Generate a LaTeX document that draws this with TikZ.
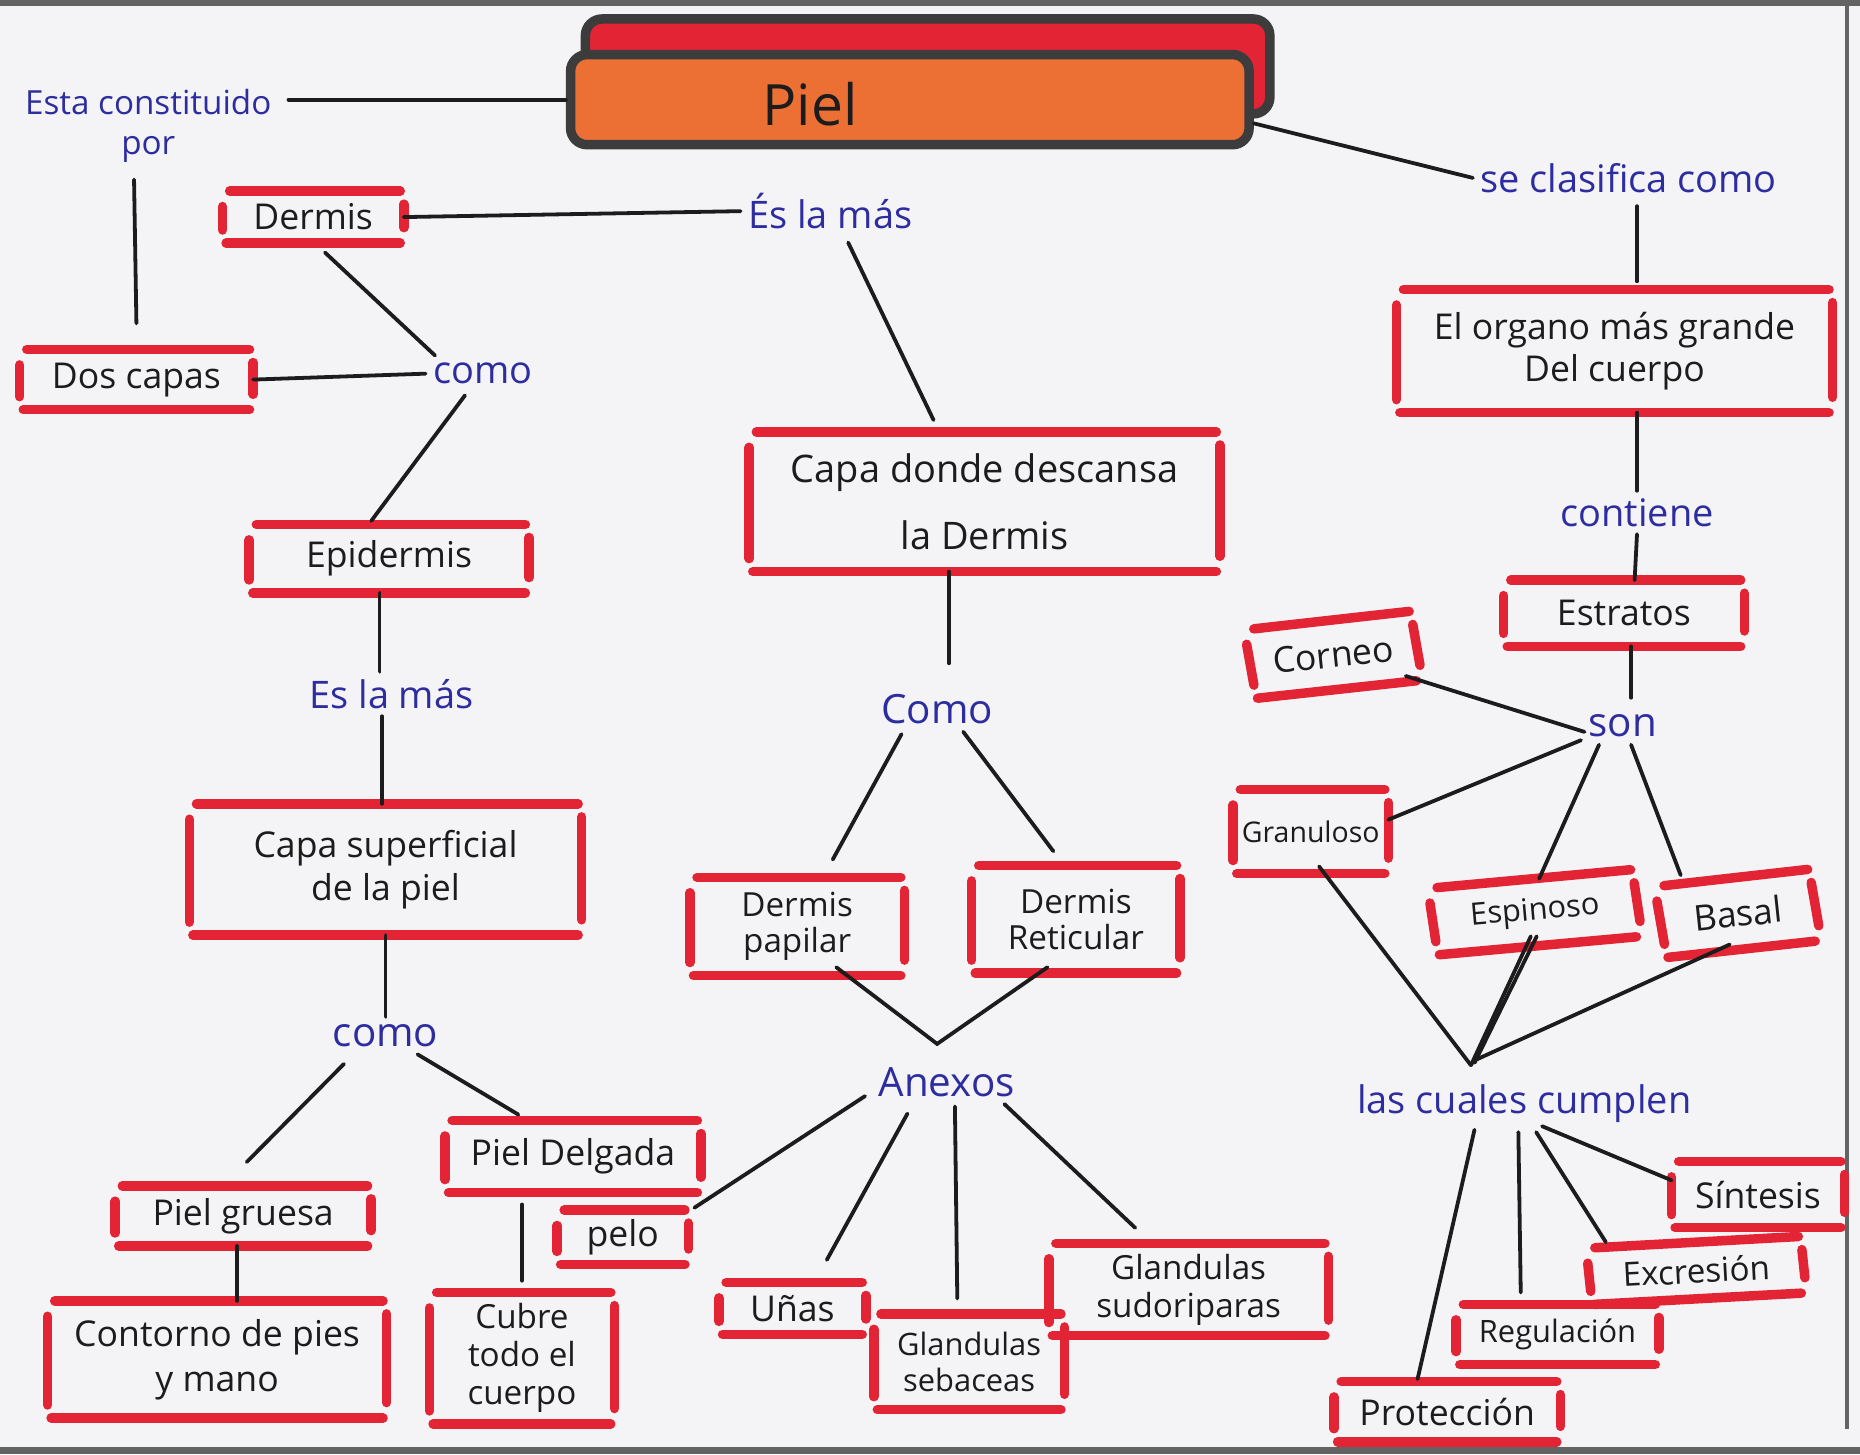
\documentclass[tikz,border=0pt]{standalone}
\usepackage{fontspec}
\setmainfont{Open Sans}
\usetikzlibrary{calc}
\definecolor{paper}{RGB}{244,244,246}
\definecolor{marker}{RGB}{226,36,52}
\definecolor{ink}{RGB}{45,45,160}
\definecolor{pen}{RGB}{28,28,28}
\definecolor{orangefill}{RGB}{236,112,52}
\definecolor{framegray}{RGB}{60,60,60}
\newcommand{\redbox}[7][]{%
  \node[rbox, minimum width=#5*0.5pt, minimum height=#6*0.5pt, #1] (#2) at (#3,#4) {#7};
  \draw[bar] ($(#2.north west)+(6,0)$) -- ($(#2.north east)+(-3,0)$);
  \draw[bar] ($(#2.south west)+(3,0)$) -- ($(#2.south east)+(-3,0)$);
  \draw[bar] ($(#2.north west)+(0,13)$) -- ($(#2.south west)+(0,-11)$);
  \draw[bar] ($(#2.north east)+(0,11)$) -- ($(#2.south east)+(0,-13)$);
}
\begin{document}
\begin{tikzpicture}[x=0.5pt,y=-0.5pt,
  rbox/.style={inner sep=0pt, align=center, font=\fontsize{15}{18}\selectfont, text=pen},
  bar/.style={marker, line width=4pt, line cap=round},
  lbl/.style={text=ink, inner sep=3pt, align=center, font=\fontsize{16}{18}\selectfont},
  con/.style={pen, line width=1.6pt, line cap=round},
  titlebox/.style={draw=framegray, line width=4pt, rounded corners=7pt, inner sep=0pt},
  edge/.style={framegray!80, line width=2pt}
]
\fill[paper] (0,0) rectangle (1568,1226);
\useasboundingbox (0,0) rectangle (1568,1226);
% scan edges
\draw[edge, line width=3pt] (0,2) -- (1568,2);
\draw[edge] (1557,0) -- (1557,1205);
\draw[edge, line width=3pt] (0,1223) -- (1568,1223);

% title
\node[titlebox, fill=marker, minimum width=288.5pt, minimum height=40pt] (pielback) at (782,56) {};
\node[titlebox, fill=orangefill, minimum width=286pt, minimum height=38pt,
  label={[text=pen, font=\fontsize{24}{26}\selectfont, xshift=-42pt, yshift=-2pt]center:Piel}] (pielfront) at (767,84) {};

% boxes
\redbox{dermis}{264}{183}{152}{43}{Dermis}
\redbox{doscapas}{115}{320}{196}{50}{Dos capas}
\redbox{epidermis}{328}{471}{235}{57}{Epidermis}
\redbox[font=\fontsize{15}{18}\selectfont]{capasup}{325}{733}{330}{110}{Capa superficial\\de la piel}
\redbox{pielgruesa}{205}{1025}{215}{50}{Piel gruesa}
\redbox[font=\fontsize{15}{19}\selectfont]{contorno}{183}{1146}{285}{98}{Contorno de pies\\y mano}
\redbox{pieldelg}{483}{975}{215}{60}{Piel Delgada}
\redbox[font=\fontsize{14}{16}\selectfont]{cubre}{440}{1145}{155}{110}{Cubre\\todo el\\cuerpo}
\redbox{pelo}{525}{1043}{110}{45}{pelo}
\redbox[font=\fontsize{16}{28}\selectfont]{capadonde}{830}{423}{396}{117}{Capa donde descansa\\la Dermis}
\redbox[font=\fontsize{14}{15}\selectfont]{dpapilar}{672}{781}{180}{82}{Dermis\\papilar}
\redbox[font=\fontsize{14}{15}\selectfont]{dretic}{907}{775}{175}{90}{Dermis\\Reticular}
\redbox{unas}{668}{1103}{123}{43}{Uñas}
\redbox[font=\fontsize{13}{15}\selectfont]{gseb}{817}{1148}{160}{80}{Glandulas\\sebaceas}
\redbox[font=\fontsize{14}{16}\selectfont]{gsud}{1002}{1087}{235}{77}{Glandulas\\sudoriparas}
\redbox[font=\fontsize{15}{18}\selectfont]{organo}{1361}{296}{367}{103}{El organo más grande\\Del cuerpo}
\redbox{estratos}{1369}{517}{202}{55}{Estratos}
\redbox[rotate=6]{corneo}{1124}{552}{140}{58}{Corneo}
\redbox[font=\fontsize{12}{14}\selectfont]{granuloso}{1105}{701}{130}{70}{Granuloso}
\redbox[rotate=5, font=\fontsize{13}{15}\selectfont]{espinoso}{1294}{769}{172}{56}{Espinoso}
\redbox[rotate=6]{basal}{1465}{770}{130}{60}{Basal}
\redbox{sintesis}{1482}{1007}{145}{55}{Síntesis}
\redbox[rotate=3, font=\fontsize{14}{16}\selectfont]{excresion}{1430}{1071}{180}{47}{Excresión}
\redbox[font=\fontsize{13}{15}\selectfont]{regulacion}{1313}{1125}{170}{50}{Regulación}
\redbox{proteccion}{1220}{1190}{190}{50}{Protección}

% blue linking words
\node[lbl, font=\fontsize{14}{17}\selectfont] (esta) at (125,106) {Esta constituido\\por};
\node[lbl] (esla1) at (700,178) {És la más};
\node[lbl] (como1) at (407,315) {como};
\node[lbl] (esla2) at (330,585) {Es la más};
\node[lbl, font=\fontsize{17}{19}\selectfont] (como2) at (325,873) {como};
\node[lbl, font=\fontsize{17}{19}\selectfont] (como3) at (790,598) {Como};
\node[lbl, font=\fontsize{17}{19}\selectfont] (anexos) at (798,912) {Anexos};
\node[lbl] (seclas) at (1373,150) {se clasifica como};
\node[lbl] (contiene) at (1380,432) {contiene};
\node[lbl, font=\fontsize{17}{19}\selectfont] (son) at (1368,612) {son};
\node[lbl] (cuales) at (1285,930) {las cuales cumplen};

\coordinate (jA) at (790,880);
\coordinate (jL) at (1240,898);

% connectors
\draw[con] ($(esta.east |- pielfront.west)+(8,0)$) -- (pielfront.west);
\draw[con] ($(esta.south)+(-12,8)$) -- ($(doscapas.north)+(0,-22)$);
\draw[con] (doscapas.east) -- (como1.west);
\draw[con] (dermis.east) -- (esla1.west);
\draw[con] ($(dermis.south)+(10,8)$) -- ($(como1.north west)+(8,0)$);
\draw[con] ($(como1.south)+(-15,3)$) -- ($(epidermis.north)+(-15,-3)$);
\draw[con] ($(epidermis.south)+(-8,0)$) -- ($(esla2.north)+(-10,0)$);
\draw[con] ($(esla2.south)+(-8,0)$) -- ($(capasup.north)+(-3,0)$);
\draw[con] (capasup.south) -- (como2.north);
\draw[con] ($(como2.south)+(-35,8)$) -- ($(pielgruesa.north)+(3,-20)$);
\draw[con] ($(como2.south)+(27,0)$) -- ($(pieldelg.north)+(-46,-5)$);
\draw[con] ($(pielgruesa.south)+(-5,0)$) -- ($(contorno.north)+(17,0)$);
\draw[con] ($(pieldelg.south)+(-43,10)$) -- ($(cubre.north)+(0,-10)$);
\draw[con] ($(esla1.south)+(15,5)$) -- ($(capadonde.north)+(-43,-10)$);
\draw[con] ($(capadonde.south)+(-30,0)$) -- ($(como3.north)+(10,-20)$);
\draw[con] ($(como3.south)+(-30,2)$) -- ($(dpapilar.north)+(30,-15)$);
\draw[con] ($(como3.south)+(22,0)$) -- ($(dretic.north)+(-19,-12)$);
\draw[con] ($(dpapilar.south)+(33,-7)$) -- (jA) -- ($(dretic.south)+(-24,-5)$);
\draw[con] ($(anexos.west)+(-5,12)$) -- ($(pelo.north east)+(5,-2)$);
\draw[con] ($(anexos.south)+(-33,8)$) -- ($(unas.north)+(29,-19)$);
\draw[con] ($(anexos.south)+(7,2)$) -- ($(gseb.north)+(-10,-13)$);
\draw[con] ($(anexos.south east)+(-15,0)$) -- ($(gsud.north)+(-45,-13)$);
\draw[con] ($(pielfront.east)+(0,20)$) -- (seclas.west);
\draw[con] ($(seclas.south)+(7,5)$) -- ($(organo.north)+(19,-7)$);
\draw[con] ($(organo.south)+(19,0)$) -- (contiene.north);
\draw[con] (contiene.south) -- ($(estratos.north)+(9,0)$);
\draw[con] ($(estratos.south)+(6,0)$) -- ($(son.north)+(7,-8)$);
\draw[con] ($(corneo.south east)+(-12,-4)$) -- ($(son.west)+(3,5)$);
\draw[con] ($(son.west)+(0,12)$) -- ($(granuloso.east)+(0,-10)$);
\draw[con] ($(son.south)+(-20,0)$) -- ($(espinoso.north)+(6,0)$);
\draw[con] ($(son.south)+(7,0)$) -- ($(basal.north)+(-45,-2)$);
\draw[con] ($(granuloso.south)+(7,-6)$) -- (jL);
\draw[con] ($(espinoso.south)+(-6,-8)$) -- (jL);
\draw[con] ($(espinoso.south)+(-1,-8)$) -- ($(jL)+(3,-2)$);
\draw[con] ($(basal.south)+(-10,-4)$) -- ($(jL)+(5,-5)$);
\draw[con] ($(cuales.south)+(-42,0)$) -- ($(proteccion.north)+(-25,-2)$);
\draw[con] ($(cuales.south)+(-5,2)$) -- ($(regulacion.north)+(-31,-10)$);
\draw[con] ($(cuales.south)+(10,2)$) -- ($(excresion.north)+(-75,0)$);
\draw[con] ($(cuales.south)+(15,-3)$) -- ($(sintesis.west)+(0,-12)$);
\end{tikzpicture}
\end{document}
